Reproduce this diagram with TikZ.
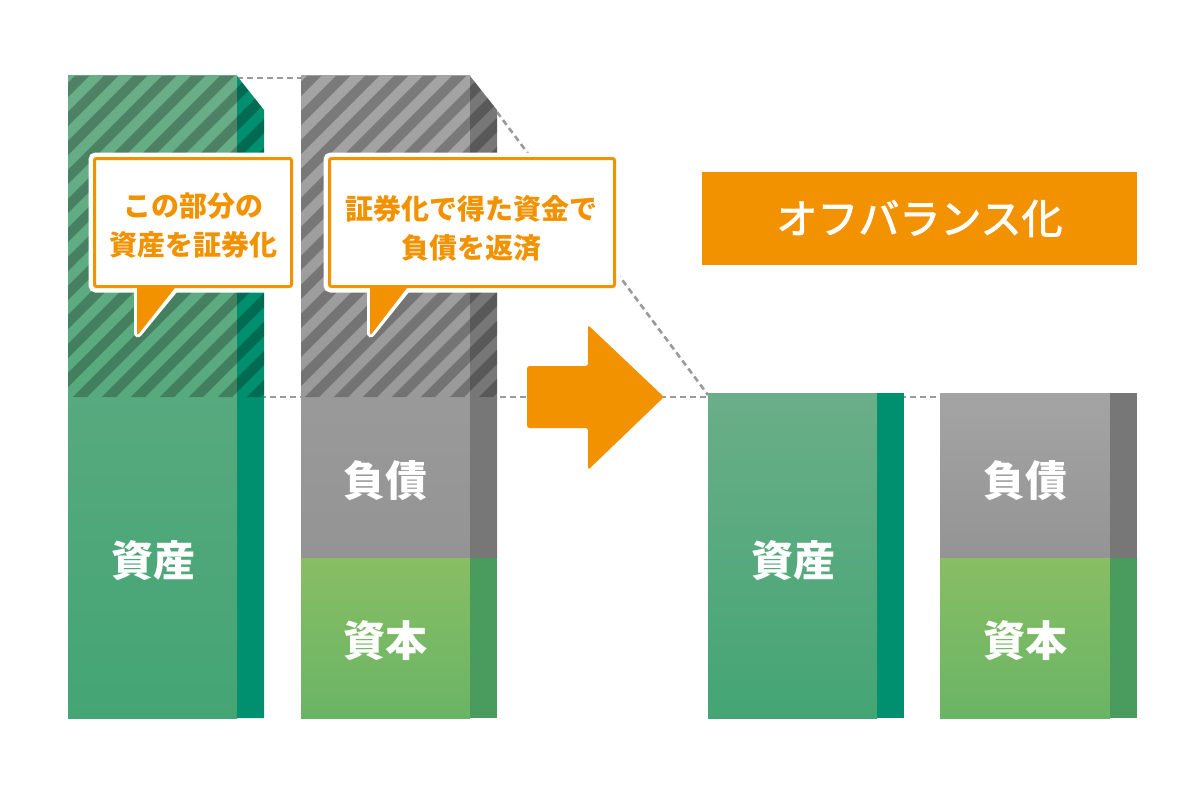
\documentclass[tikz,border=0pt]{standalone}
\usepackage{fontspec}
\setmainfont{Noto Sans CJK JP}
\newfontfamily\bannerfont[FakeBold=2.2]{Noto Sans CJK JP}
\definecolor{gmTop}{HTML}{6AAE88}
\definecolor{gmBot}{HTML}{44A574}
\definecolor{gStrip}{HTML}{00906F}
\definecolor{grTop}{HTML}{A4A4A4}
\definecolor{grBot}{HTML}{949494}
\definecolor{grStrip}{HTML}{777777}
\definecolor{cpTop}{HTML}{88BE64}
\definecolor{cpBot}{HTML}{6AB465}
\definecolor{cpStrip}{HTML}{4A9B5E}
\definecolor{orng}{HTML}{F39200}
\definecolor{dashgray}{HTML}{9A9A9A}
\tikzset{
  dashline/.style={draw=dashgray, line width=2.6pt, dash pattern=on 6pt off 4pt},
  hatchline/.style={draw=black, opacity=0.25, line width=10pt},
  barlabel/.style={text=white, font=\fontsize{42}{48}\selectfont\bfseries, inner sep=0pt},
  calltext/.style={text=orng, font=\fontsize{28}{39}\selectfont\bfseries, align=center, inner sep=0pt},
  callbox/.style={draw=orng, fill=white, line width=3pt, rounded corners=2pt},
}
\begin{document}
\begin{tikzpicture}[x=1pt,y=-1pt]
\useasboundingbox (0,0) rectangle (1200,792);
% named coordinates for connectors
\coordinate (a1) at (237,78);
\coordinate (a2) at (301,78);
\coordinate (b1) at (497,112);
\coordinate (b2) at (708,395);
\coordinate (m1) at (250,397);
\coordinate (m2) at (945,397);
% dashed guide lines (behind)
\draw[dashline] (a1) -- (a2);
\draw[dashline] (b1) -- (b2);
\draw[dashline] (m1) -- (m2);

% ---- left asset bar
\shade[top color=gmTop, bottom color=gmBot] (68,76) rectangle (237,718);
\fill[gStrip] (237,76) -- (264,110) -- (264,718) -- (237,718) -- cycle;
\begin{scope}
  \clip (68,76) -- (237,76) -- (264,110) -- (264,397) -- (68,397) -- cycle;
  \foreach \k in {-14,...,11} \draw[hatchline] (\k*29+28,420) -- ++(370,-370);
\end{scope}
\node[barlabel] (asL) at (153,561) {資産};

% ---- left liability/capital bar
\shade[top color=grTop, bottom color=grBot] (301,76) rectangle (470,558);
\fill[grStrip] (470,76) -- (497,110) -- (497,558) -- (470,558) -- cycle;
\shade[top color=cpTop, bottom color=cpBot] (301,558) rectangle (470,718);
\fill[cpStrip] (470,558) rectangle (497,718);
\begin{scope}
  \clip (301,76) -- (470,76) -- (497,110) -- (497,397) -- (301,397) -- cycle;
  \foreach \k in {-5,...,19} \draw[hatchline] (\k*29+28,420) -- ++(370,-370);
\end{scope}
\node[barlabel] (lbL) at (385,481) {負債};
\node[barlabel] (cpL) at (385,641) {資本};

% ---- callout 1
\draw[white, line width=9pt, rounded corners=3pt] (93,157) rectangle (293,288);
\draw[white, line width=6pt, line join=round, rounded corners=3pt] (137,286) -- (137,336) -- (178,286);
\fill[orng, rounded corners=3pt] (137,284) -- (137,336) -- (178,284) -- cycle;
\node[callbox, minimum width=197pt, minimum height=128pt] (cb1) at (193,222.5) {};
\node[calltext] (ct1) at (193,226) {この部分の\\資産を証券化};

% ---- callout 2
\draw[white, line width=9pt, rounded corners=3pt] (328,157) rectangle (616,288);
\draw[white, line width=6pt, line join=round, rounded corners=3pt] (370,286) -- (370,336) -- (410,286);
\fill[orng, rounded corners=3pt] (370,284) -- (370,336) -- (410,284) -- cycle;
\node[callbox, minimum width=285pt, minimum height=128pt] (cb2) at (472,222.5) {};
\node[calltext] (ct2) at (471,228) {証券化で得た資金で\\負債を返済};

% ---- big arrow
\fill[orng, rounded corners=2.5pt] (527,366) -- (588,366) -- (588,325) -- (664,397) -- (588,470) -- (588,428) -- (527,428) -- cycle;

% ---- banner
\node[fill=orng, minimum width=435pt, minimum height=93pt, inner sep=0pt, text=white, font=\bannerfont\fontsize{41}{48}\selectfont] (ob) at (919.5,218.5) {オフバランス化};

% ---- right asset bar
\shade[top color=gmTop, bottom color=gmBot] (708,393) rectangle (877,718);
\fill[gStrip] (877,393) rectangle (904,718);
\node[barlabel] (asR) at (793,561) {資産};

% ---- right liability/capital bar
\shade[top color=grTop, bottom color=grBot] (940,393) rectangle (1110,558);
\fill[grStrip] (1110,393) rectangle (1137,558);
\shade[top color=cpTop, bottom color=cpBot] (940,558) rectangle (1110,718);
\fill[cpStrip] (1110,558) rectangle (1137,718);
\node[barlabel] (lbR) at (1025,481) {負債};
\node[barlabel] (cpR) at (1025,641) {資本};
\end{tikzpicture}
\end{document}
